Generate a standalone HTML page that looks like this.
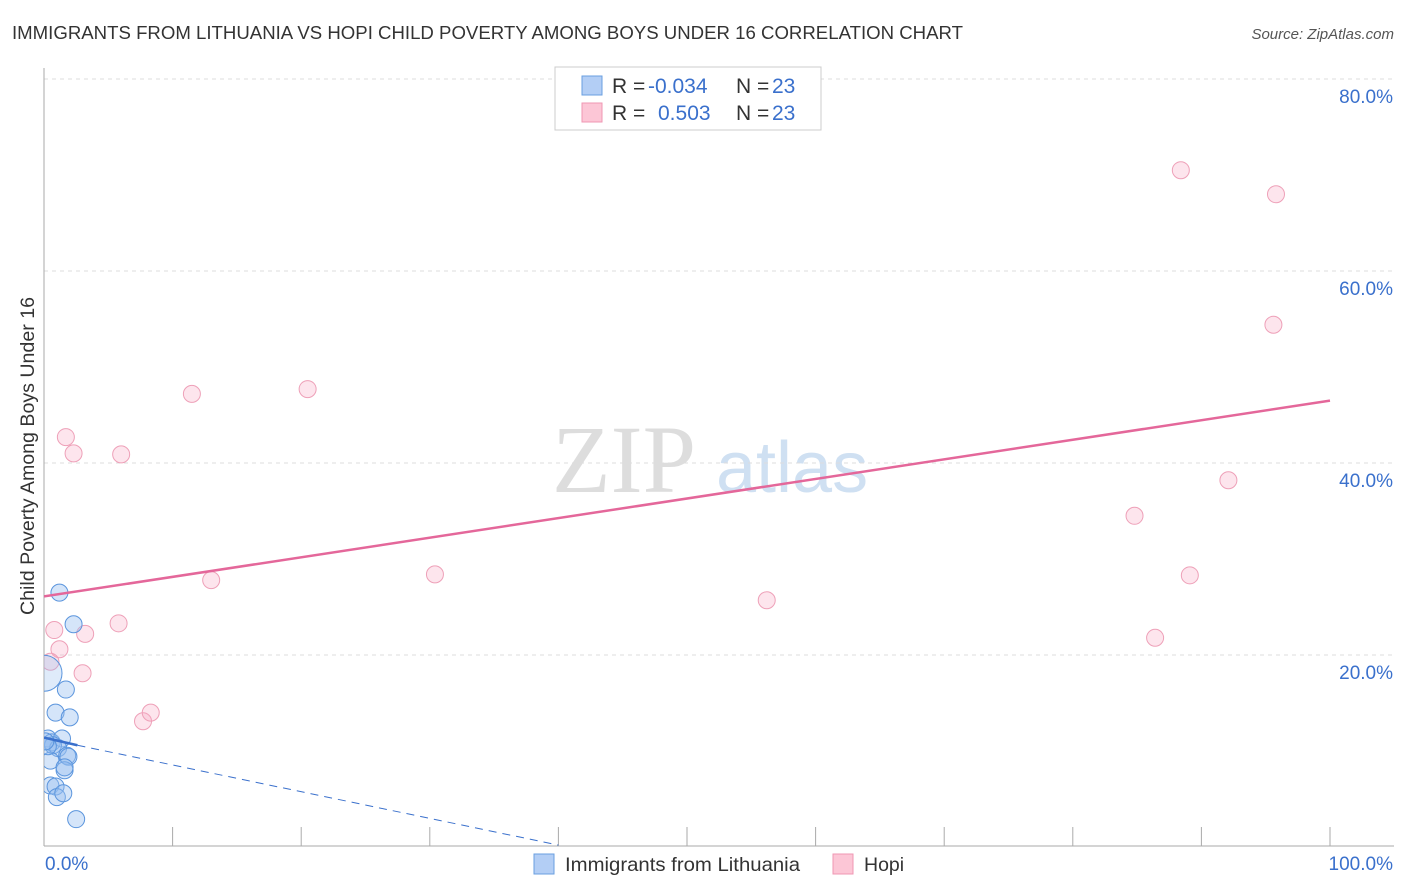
<!DOCTYPE html>
<html><head><meta charset="utf-8"><style>
body{margin:0;background:#fff;font-family:"Liberation Sans",sans-serif;}
svg{display:block}
</style></head><body>
<svg id="chart" width="1406" height="892" xmlns="http://www.w3.org/2000/svg">
<defs><clipPath id="plot"><rect x="44" y="60" width="1360" height="786"/></clipPath></defs>
<text x="12" y="39" font-size="18" fill="#333" textLength="951" lengthAdjust="spacingAndGlyphs">IMMIGRANTS FROM LITHUANIA VS HOPI CHILD POVERTY AMONG BOYS UNDER 16 CORRELATION CHART</text>
<text x="1394" y="39" font-size="15" fill="#555" font-style="italic" text-anchor="end">Source: ZipAtlas.com</text>
<text x="552" y="492" font-size="96" fill="#ddd" font-family="Liberation Serif,serif">ZIP</text>
<text x="716" y="492" font-size="72" fill="#cfe0f2">atlas</text>
<text transform="translate(34,456) rotate(-90)" font-size="19" fill="#333" text-anchor="middle" textLength="318" lengthAdjust="spacingAndGlyphs">Child Poverty Among Boys Under 16</text>
<g id="grid"></g><g id="marks" clip-path="url(#plot)"></g>
<g>
<rect x="555" y="67" width="266" height="63" fill="#fff" stroke="#ccc"/>
<rect x="582" y="76" width="20" height="19" fill="#b3cef5" stroke="#6a9fe0"/>
<rect x="582" y="103" width="20" height="19" fill="#fcc6d6" stroke="#ef97b3"/>
<text x="612" y="93" font-size="21" fill="#333">R = <tspan x="648" fill="#3a70cc">-0.034</tspan><tspan x="736">N = </tspan><tspan x="772" fill="#3a70cc">23</tspan></text>
<text x="612" y="120" font-size="21" fill="#333">R = <tspan x="658" fill="#3a70cc">0.503</tspan><tspan x="736">N = </tspan><tspan x="772" fill="#3a70cc">23</tspan></text>
</g>
<g>
<rect x="534" y="854" width="20" height="20" fill="#b3cef5" stroke="#6a9fe0"/>
<text x="565" y="871" font-size="19.5" fill="#333" textLength="235" lengthAdjust="spacingAndGlyphs">Immigrants from Lithuania</text>
<rect x="833" y="854" width="20" height="20" fill="#fcc6d6" stroke="#ef97b3"/>
<text x="864" y="871" font-size="19.5" fill="#333">Hopi</text>
</g>
</svg>
<script>
const blueX=[1.2,2.3,0,1.7,0.9,2.0,0.3,0.6,1.4,0.7,1.1,1.8,0.5,1.9,1.6,1.6,0.5,0.9,1.0,1.5,2.5,0.3,0.1];
const blueY=[26.5,23.2,18.1,16.4,14.0,13.5,11.3,10.9,11.3,10.6,10.3,9.5,9.0,9.4,8.0,8.3,6.4,6.3,5.2,5.6,2.9,10.5,11.0];
const pinkX=[1.7,2.3,6.0,11.5,20.5,0.8,1.2,3.2,5.8,3.0,0.5,13.0,30.4,7.7,8.3,56.2,84.8,88.4,92.1,95.8,95.6,89.1,86.4];
const pinkY=[42.7,41.0,40.9,47.2,47.7,22.6,20.6,22.2,23.3,18.1,19.3,27.8,28.4,13.1,14.0,25.7,34.5,70.5,38.2,68.0,54.4,28.3,21.8];
const yTicks=[20,40,60,80];
const yTickLabels=["20.0%","40.0%","60.0%","80.0%"];
const pinkTrend=[26.1,46.5];
const blueTrend=[11.4,10.6,0.2];
const xs=v=>44+v*12.86, ys=v=>847-v*9.6;
const NS="http://www.w3.org/2000/svg";
function mk(p,t,a){const e=document.createElementNS(NS,t);for(const k in a)e.setAttribute(k,a[k]);p.appendChild(e);return e;}
const g=document.getElementById('grid'), m=document.getElementById('marks');
yTicks.forEach((t,i)=>{
 const l=mk(g,'line',{x1:44,x2:1394,y1:ys(t),y2:ys(t),stroke:'#ddd','stroke-dasharray':'4,4'});
 
 
 const tx=mk(g,'text',{x:1393,y:ys(t)+24,'font-size':19,fill:'#3a70cc','text-anchor':'end'});
 tx.textContent=yTickLabels[i];
 
 
});
mk(g,'line',{x1:44,x2:44,y1:68,y2:846,stroke:'#aaa'});
mk(g,'line',{x1:44,x2:1394,y1:846,y2:846,stroke:'#aaa'});
for(let i=1;i<=10;i++){mk(g,'line',{x1:44+i*128.6,x2:44+i*128.6,y1:827,y2:846,stroke:'#aaa'});}
const x0=mk(g,'text',{x:45,y:870,'font-size':19,fill:'#3a70cc'});x0.textContent='0.0%';


const x1=mk(g,'text',{x:1393,y:870,'font-size':19,fill:'#3a70cc','text-anchor':'end'});x1.textContent='100.0%';


pinkX.forEach((x,i)=>{const c=mk(m,'circle',{cx:xs(x),cy:ys(pinkY[i]),r:8.5,fill:'rgba(248,170,195,0.3)',stroke:'#eea0b8'});
 
 });
blueX.forEach((x,i)=>{const c=mk(m,'circle',{cx:xs(x),cy:ys(blueY[i]),r:i==2?18:8.5,fill:i==2?'rgba(150,190,240,0.3)':'rgba(150,190,240,0.4)',stroke:'#5b95dd'});
 
 });
const pl=mk(m,'line',{x1:xs(0),y1:ys(pinkTrend[0]),x2:xs(100),y2:ys(pinkTrend[1]),stroke:'#e4679a','stroke-width':2.5});


const bl=mk(m,'line',{x1:xs(0),y1:ys(blueTrend[0]),x2:xs(2.6),y2:ys(blueTrend[1]),stroke:'#3a70cc','stroke-width':2.5});


const bd=mk(m,'line',{x1:xs(2.6),y1:ys(blueTrend[1]),x2:xs(40),y2:ys(blueTrend[2]),stroke:'#3a70cc','stroke-width':1,'stroke-dasharray':'8,6'});


</script>
</body></html>
